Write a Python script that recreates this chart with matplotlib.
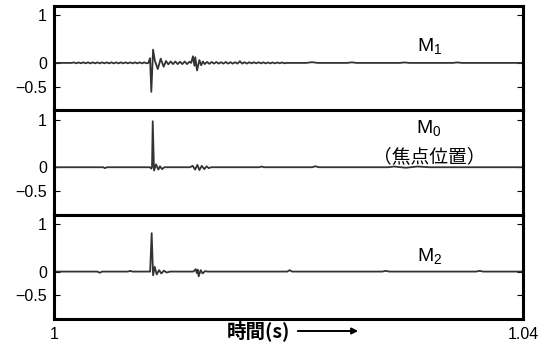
import numpy as np
import matplotlib
matplotlib.use("Agg")
import matplotlib.pyplot as plt

plt.rcParams["font.family"] = ["Liberation Sans", "Noto Sans CJK JP", "DejaVu Sans"]
plt.rcParams["mathtext.fontset"] = "custom"
plt.rcParams["mathtext.rm"] = "Liberation Sans"
plt.rcParams["mathtext.it"] = "Liberation Sans"
plt.rcParams["axes.unicode_minus"] = True

# waveforms: time after 1 s (ms) and normalised amplitude
m1_ms = [0.0, 1.5, 1.7, 1.9, 2.1, 2.3, 2.5, 2.7, 2.9, 3.1, 3.3, 3.5, 3.7, 3.9,
         4.1, 4.3, 4.5, 4.7, 4.9, 5.1, 5.3, 5.5, 5.7, 5.9, 6.1, 6.3, 6.5, 6.7,
         6.9, 7.1, 7.3, 7.5, 7.7, 7.9, 8.05, 8.19, 8.30, 8.45, 8.60, 8.85,
         9.10, 9.35, 9.55, 9.75, 9.95, 10.15, 10.35, 10.55, 10.75, 10.95,
         11.15, 11.35, 11.55, 11.7, 11.85, 11.98, 12.05, 12.2, 12.4, 12.55,
         12.7, 12.85, 13.05, 13.25, 13.45, 13.65, 13.85, 14.05, 14.25, 14.45,
         14.65, 14.85, 15.05, 15.25, 15.45, 15.65, 15.85, 16.05, 16.25, 16.45,
         16.65, 16.85, 17.05, 17.25, 17.45, 17.65, 17.85, 18.05, 18.25, 18.45,
         18.65, 18.85, 19.05, 19.25, 19.45, 19.65, 19.85, 20.3, 21.5, 22.0,
         22.5, 25.0, 25.4, 25.8, 29.5, 29.9, 30.3, 34.0, 34.4, 34.8, 40.0]
m1_amp = [0.0, 0.0, 0.01, -0.008, 0.01, -0.008, 0.012, -0.008, 0.012, -0.01,
          0.012, -0.01, 0.012, -0.01, 0.012, -0.01, 0.012, -0.01, 0.012, -0.01,
          0.012, -0.01, 0.012, -0.01, 0.012, -0.01, 0.012, -0.01, 0.012, -0.01,
          0.012, -0.01, 0.012, -0.01, 0.0, 0.10, -0.61, 0.28, 0.05, -0.13,
          0.09, -0.08, 0.04, -0.03, 0.03, -0.025, 0.03, -0.025, 0.025, -0.025,
          0.03, -0.025, 0.025, 0.0, 0.14, -0.06, 0.12, -0.16, 0.06, -0.05,
          0.03, -0.025, 0.02, -0.02, 0.02, -0.015, 0.02, -0.015, 0.015, -0.015,
          0.02, -0.015, 0.015, -0.015, 0.015, -0.015, 0.035, -0.015, 0.015,
          -0.015, 0.015, -0.01, 0.015, -0.01, 0.015, -0.01, 0.012, -0.01,
          0.01, -0.01, 0.01, -0.01, 0.01, -0.008, 0.01, -0.008, 0.0, 0.0,
          0.0, 0.015, 0.0, 0.0, 0.012, 0.0, 0.0, 0.01, 0.0, 0.0, 0.01, 0.0,
          0.0]

m0_ms = [0.0, 4.2, 4.35, 4.5, 8.2, 8.3, 8.36, 8.42, 8.53, 8.70, 8.90, 9.04,
         9.21, 9.41, 11.6, 11.83, 12.03, 12.23, 12.40, 12.6, 12.82, 13.02,
         13.2, 13.4, 17.5, 17.7, 17.9, 22.0, 22.3, 22.6, 28.5, 29.0, 30.0,
         31.0, 32.0, 40.0]
m0_amp = [0.0, 0.0, -0.02, 0.0, 0.0, -0.03, 0.0, 0.97, -0.07, 0.06, -0.05,
          0.02, -0.04, 0.0, 0.0, 0.03, -0.05, 0.05, -0.06, 0.03, -0.04, 0.02,
          -0.02, 0.0, 0.0, 0.015, 0.0, 0.0, 0.02, 0.0, 0.0, 0.015, -0.01,
          0.015, 0.0, 0.0]

m2_ms = [0.0, 3.7, 3.9, 4.1, 6.3, 6.5, 6.7, 8.2, 8.33, 8.45, 8.59, 8.76,
         8.96, 9.15, 9.38, 9.61, 9.9, 11.88, 12.09, 12.17, 12.26, 12.34,
         12.51, 12.68, 12.88, 13.1, 19.9, 20.1, 20.3, 28.0, 28.3, 28.6, 36.0,
         36.3, 36.6, 40.0]
m2_amp = [0.0, 0.0, -0.025, 0.0, 0.0, 0.015, 0.0, 0.0, 0.81, -0.08, 0.10,
          -0.06, 0.03, -0.04, 0.02, -0.02, 0.0, 0.0, 0.05, -0.03, 0.04, -0.10,
          0.03, -0.04, 0.01, 0.0, 0.0, 0.03, 0.0, 0.0, 0.015, 0.0, 0.0, 0.015,
          0.0, 0.0]

panels = [
    (m1_ms, m1_amp, [("$\\mathrm{M}_1$", 0.36, 14)]),
    (m0_ms, m0_amp, [("$\\mathrm{M}_0$", 0.82, 14), ("（焦点位置）", 0.22, 13.5)]),
    (m2_ms, m2_amp, [("$\\mathrm{M}_2$", 0.33, 14)]),
]

fig, axes = plt.subplots(3, 1, figsize=(5.45, 3.46), dpi=100, sharex=True)
fig.subplots_adjust(left=54 / 545, right=523 / 545, bottom=27 / 346,
                    top=1 - 6 / 346, hspace=0)

for ax, (ms, amp, labels) in zip(axes, panels):
    t = 1 + np.array(ms) / 1000.0
    ax.plot(t, amp, color="#333333", lw=1.3)
    ax.set_xlim(1, 1.04)
    ax.set_ylim(-1.0, 1.2)
    ax.set_yticks([-0.5, 0, 1])
    ax.set_yticklabels(["\u22120.5", "0", "1"])
    ax.tick_params(axis="y", direction="in", length=4, width=0.8,
                   left=True, right=True, labelsize=11.5, pad=5)
    ax.tick_params(axis="x", length=0)
    for s in ax.spines.values():
        s.set_linewidth(2.2)
    for txt, yv, fs in labels:
        fam = ["Noto Sans CJK JP"] if "焦" in txt else ["Liberation Sans"]
        ax.text(1.0320, yv, txt, ha="center", va="center", fontsize=fs,
                family=fam)

axes[-1].set_xticks([1, 1.04])
axes[-1].set_xticklabels(["1", "1.04"])
axes[-1].tick_params(axis="x", labelsize=11.5, pad=6)

fig.text(258 / 545, 1 - 331 / 346, "時間(s)", ha="center", va="center",
         fontsize=14, fontweight="bold", family=["Noto Sans CJK JP"])
fig.add_artist(matplotlib.patches.FancyArrowPatch(
    (295 / 545, 1 - 331 / 346), (361 / 545, 1 - 331 / 346),
    transform=fig.transFigure, arrowstyle="-|>", mutation_scale=9,
    color="black", lw=1.4))

fig.savefig("out.png", dpi=100)
